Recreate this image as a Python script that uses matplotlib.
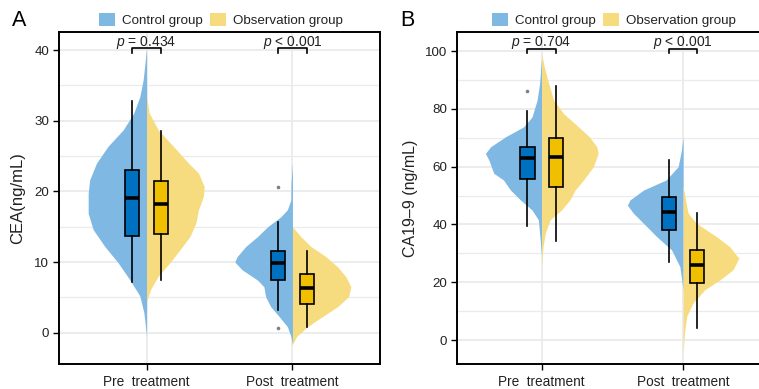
import matplotlib
matplotlib.use("Agg")
import matplotlib.pyplot as plt
from matplotlib.patches import Patch

plt.rcParams['font.family'] = ['Liberation Sans', 'DejaVu Sans']
plt.rcParams['mathtext.fontset'] = 'custom'
plt.rcParams['mathtext.it'] = 'Liberation Sans:italic'
plt.rcParams['mathtext.rm'] = 'Liberation Sans'

# categories and groups
categories = ["Pre  treatment", "Post  treatment"]
groups = ["Control group", "Observation group"]

# violin outlines: (value, half width)
cea_pre_ctrl = [(40.2, 0), (35.8, 0.023), (33.4, 0.046), (31.1, 0.087), (28.7, 0.16), (26.4, 0.263),
                (24, 0.343), (21.6, 0.39), (19.7, 0.40), (16.9, 0.40), (14.6, 0.366), (12.2, 0.286),
                (9.9, 0.195), (7.5, 0.115), (5.2, 0.046), (2.8, 0.018), (0.45, 0.005), (-0.5, 0)]
cea_pre_obs = [(33.5, 0), (31.1, 0.018), (28.7, 0.08), (26.4, 0.183), (24, 0.287), (22.6, 0.356),
               (20.7, 0.395), (19.3, 0.39), (17.4, 0.356), (15.5, 0.338), (13.6, 0.297), (11.7, 0.228),
               (9.9, 0.16), (8, 0.08), (6.1, 0.027), (4.7, 0.005), (4.2, 0)]
cea_post_ctrl = [(24.0, 0), (21.1, 0.01), (18.8, 0.011), (17.4, 0.035), (16.4, 0.08), (15, 0.17),
                 (13.6, 0.24), (12.2, 0.32), (10.75, 0.38), (10.0, 0.395), (8.9, 0.345), (7.45, 0.24),
                 (6.5, 0.196), (5.1, 0.184), (3.7, 0.15), (2.3, 0.092), (0.85, 0.035), (-0.57, 0.01),
                 (-1.7, 0)]
cea_post_obs = [(15.0, 0), (13.6, 0.057), (12.2, 0.126), (10.75, 0.23), (9.3, 0.31), (7.9, 0.367),
                (6.5, 0.40), (5.1, 0.385), (3.7, 0.31), (2.3, 0.207), (0.85, 0.103), (-0.57, 0.027),
                (-1.7, 0)]

ca_pre_ctrl = [(98, 0), (88.8, 0.014), (83, 0.032), (77.2, 0.068), (73.8, 0.127), (70.3, 0.256), (66.9, 0.36),
               (64.6, 0.397), (62.3, 0.373), (57.7, 0.338), (55.4, 0.27), (51.9, 0.22), (48.5, 0.15),
               (45, 0.068), (41.6, 0.023), (34.6, 0.01), (28.9, 0)]
ca_pre_obs = [(99.1, 0), (94.5, 0.019), (88.8, 0.05), (83, 0.085), (78.4, 0.155), (73.8, 0.26), (70.3, 0.338),
              (66.9, 0.39), (64.6, 0.40), (60, 0.366), (55.4, 0.296), (51.9, 0.237), (48.5, 0.2), (45, 0.14),
              (41.6, 0.06), (37, 0.026), (32.3, 0.01), (25.4, 0)]
ca_post_ctrl = [(70.3, 0), (65.7, 0.012), (60, 0.035), (55.4, 0.12), (51.9, 0.28), (48.5, 0.375),
                (46.7, 0.394), (43.9, 0.352), (40.4, 0.28), (35.8, 0.187), (31.2, 0.082), (25.4, 0.023),
                (20.8, 0.01), (17.4, 0)]
ca_post_obs = [(53.1, 0), (43.9, 0.035), (40.4, 0.094), (35.8, 0.235), (32.3, 0.329), (28.3, 0.394),
               (24.3, 0.352), (20.8, 0.26), (17.4, 0.153), (12.8, 0.07), (8.2, 0.025), (2.4, 0.01), (-4.5, 0)]

# box stats: whislo, q1, med, q3, whishi, outliers
cea_box_ctrl = [(7.2, 13.7, 19.0, 23.0, 32.8, []), (3.2, 7.45, 9.85, 11.6, 15.6, [20.6, 0.6])]
cea_box_obs = [(7.4, 13.9, 18.2, 21.5, 28.5, []), (0.85, 4.1, 6.3, 8.3, 11.6, [])]
ca_box_ctrl = [(39.5, 55.7, 62.9, 66.9, 79.3, [86.2]), (27.0, 38.1, 44.4, 49.4, 62.3, [])]
ca_box_obs = [(34.4, 52.8, 63.4, 70.0, 87.8, []), (4.1, 19.6, 26.1, 31.0, 43.9, [])]

p_labels_cea = ["= 0.434", "< 0.001"]
p_labels_ca = ["= 0.704", "< 0.001"]

violin_colors = ["#7FB9E3", "#F6DC7E"]
box_colors = ["#0070C0", "#F0C000"]
grid_col = "#EBEBEB"
txt_col = "#222222"

fig = plt.figure(figsize=(7.59, 3.89), dpi=100)
axA = fig.add_axes([0.0777, 0.0643, 0.4230, 0.8534])
axB = fig.add_axes([0.6017, 0.0643, 0.4102, 0.8534])


def draw_panel(ax, violins, box_ctrl, box_obs, p_labels, ylim, major, minor, bracket, ylabel, ylabel_size):
    ax.set_xlim(0.4, 2.6)
    ax.set_ylim(*ylim)
    for v in minor:
        ax.axhline(v, color=grid_col, lw=0.9, zorder=0)
    for v in major:
        ax.axhline(v, color=grid_col, lw=1.3, zorder=0)
    for i in range(len(categories)):
        ax.axvline(i + 1, color=grid_col, lw=1.3, zorder=0)

    # split violins: control to the left, observation to the right
    for i, (left, right) in enumerate(violins):
        x0 = i + 1
        ys = [p[0] for p in left]
        ws = [x0 - p[1] for p in left]
        ax.fill_betweenx(ys, ws, x0, color=violin_colors[0], lw=0, zorder=1)
        ys = [p[0] for p in right]
        ws = [x0 + p[1] for p in right]
        ax.fill_betweenx(ys, x0, ws, color=violin_colors[1], lw=0, zorder=1)

    for k, (boxes, off) in enumerate([(box_ctrl, -0.1), (box_obs, 0.1)]):
        stats = []
        for lo, q1, med, q3, hi, fl in boxes:
            stats.append(dict(whislo=lo, q1=q1, med=med, q3=q3, whishi=hi, fliers=fl))
        ax.bxp(stats, positions=[i + 1 + off for i in range(len(boxes))], widths=0.1,
               patch_artist=True, showcaps=False, manage_ticks=False,
               boxprops=dict(facecolor=box_colors[k], edgecolor="black", lw=1.2),
               whiskerprops=dict(color="black", lw=1.2),
               medianprops=dict(color="black", lw=2.6),
               flierprops=dict(marker="o", markersize=2.6, markerfacecolor="#7F7F7F",
                               markeredgecolor="none"))

    top, bottom, text_y = bracket
    for i, lab in enumerate(p_labels):
        x0 = i + 1
        ax.plot([x0 - 0.1, x0 - 0.1, x0 + 0.1, x0 + 0.1], [bottom, top, top, bottom],
                color="black", lw=1.2, zorder=4, clip_on=False)
        ax.text(x0, text_y, "$p$ " + lab, ha="center", va="baseline", fontsize=10, color=txt_col)

    ax.set_yticks(major)
    ax.set_xticks([i + 1 for i in range(len(categories))])
    ax.set_xticklabels(categories, fontsize=9.8, color=txt_col)
    ax.tick_params(axis="y", labelsize=9.6, labelcolor=txt_col, length=4, width=1.0, pad=3)
    ax.tick_params(axis="x", length=4, width=1.0, pad=4)
    for s in ax.spines.values():
        s.set_linewidth(1.4)
        s.set_color("black")
    ax.set_ylabel(ylabel, fontsize=ylabel_size, color=txt_col)

    handles = [Patch(facecolor=violin_colors[j], edgecolor="none", label=groups[j]) for j in range(2)]
    ax.legend(handles=handles, ncol=2, loc="center", bbox_to_anchor=(0.505, 1.036), frameon=False,
              fontsize=9.6, handlelength=1.2, handleheight=1.15, handletextpad=0.5,
              columnspacing=0.55, borderaxespad=0, labelcolor=txt_col)


draw_panel(axA, [(cea_pre_ctrl, cea_pre_obs), (cea_post_ctrl, cea_post_obs)],
           cea_box_ctrl, cea_box_obs, p_labels_cea, (-4.43, 42.55),
           [0, 10, 20, 30, 40], [5, 15, 25, 35], (40.22, 39.65, 40.6), "CEA(ng/mL)", 12)
axA.yaxis.set_label_coords(-0.105, 0.5)

draw_panel(axB, [(ca_pre_ctrl, ca_pre_obs), (ca_post_ctrl, ca_post_obs)],
           ca_box_ctrl, ca_box_obs, p_labels_ca, (-8.3, 106.6),
           [0, 20, 40, 60, 80, 100], [10, 30, 50, 70, 90], (100.6, 99.5, 101.7), "CA19\u20139 (ng/mL)", 11.5)
axB.yaxis.set_label_coords(-0.125, 0.5)

fig.text(19 / 759, 1 - 20 / 389, "A", fontsize=15.5, ha="center", va="center", color="black")
fig.text(407 / 759, 1 - 20 / 389, "B", fontsize=15.5, ha="center", va="center", color="black")

fig.savefig("out.png", dpi=100)
